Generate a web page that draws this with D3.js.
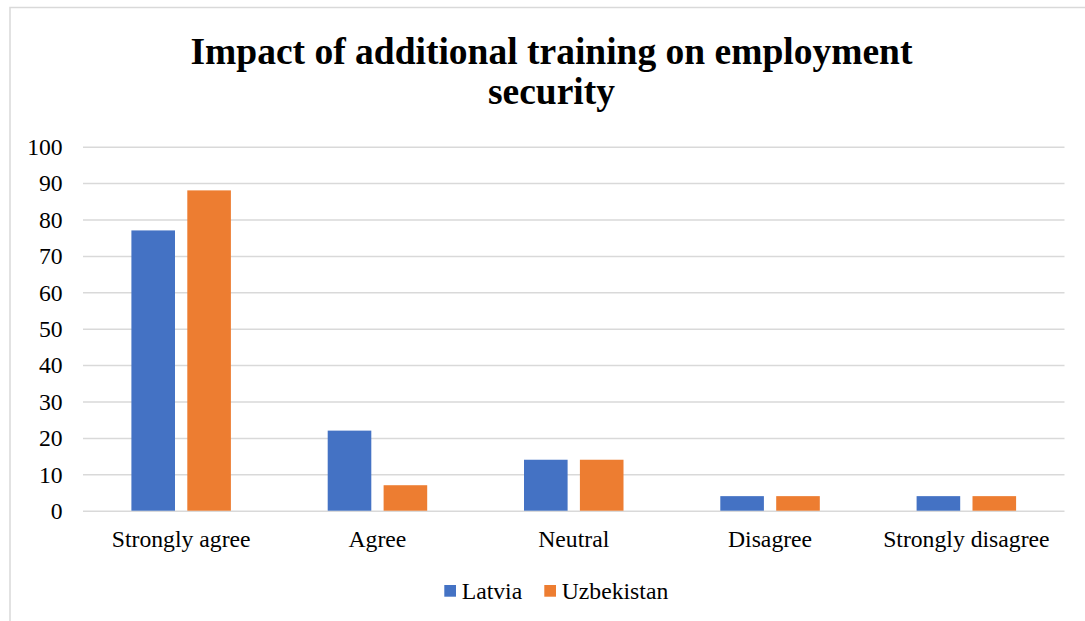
<!DOCTYPE html>
<html>
<head>
<meta charset="utf-8">
<script src="https://cdn.jsdelivr.net/npm/d3@7"></script>
<style>
  html, body { margin: 0; padding: 0; background: #fff; }
  svg { display: block; }
  svg text { font-family: "Liberation Serif", "Times New Roman", serif; fill: #000; }
</style>
</head>
<body>
<div id="chart"></div>
<script>
// Survey responses, percent of respondents
const categories = ["Strongly agree", "Agree", "Neutral", "Disagree", "Strongly disagree"];
const seriesNames = ["Latvia", "Uzbekistan"];
const latvia = [77, 22, 14, 4, 4];
const uzbekistan = [88, 7, 14, 4, 4];
const yTicks = [0, 10, 20, 30, 40, 50, 60, 70, 80, 90, 100];
const colors = ["#4472C4", "#ED7D31"];
const titleLines = ["Impact of additional training on employment", "security"];

const W = 1085, H = 621;
const plot = { left: 83, right: 1064.5, top: 146.7, bottom: 510.7 };
const bodyFont = 23.7;

const svg = d3.select("#chart").append("svg")
  .attr("width", W).attr("height", H);

// chart frame
svg.append("rect")
  .attr("x", 10).attr("y", 7.5)
  .attr("width", W + 20).attr("height", H + 20)
  .attr("fill", "#fff").attr("stroke", "#d9d9d9").attr("stroke-width", 1.5);

// title
const title = svg.append("text")
  .attr("text-anchor", "middle")
  .style("font-weight", "bold")
  .style("font-size", "37.5px");
titleLines.forEach((t, i) => {
  title.append("tspan").attr("x", 551.5).attr("y", 63.5 + i * 40).text(t);
});

const x0 = d3.scaleBand().domain(categories).range([plot.left, plot.right]).padding(0);
const y = d3.scaleLinear().domain([0, 100]).range([plot.bottom, plot.top]);

// gridlines and value labels
const yAxis = d3.axisLeft(y).tickValues(yTicks).tickSize(-(plot.right - plot.left)).tickPadding(20.3);
const gy = svg.append("g").attr("transform", `translate(${plot.left},0)`).call(yAxis);
gy.select(".domain").remove();
gy.selectAll(".tick line").attr("stroke", "#d9d9d9").attr("stroke-width", 1.5);
gy.selectAll(".tick text")
  .style("font-size", bodyFont + "px")
  .attr("dy", "0.33em");

// bars
const barW = 43.6, innerGap = 12.3;
const rows = categories.map((c, i) => ({ cat: c, vals: [latvia[i], uzbekistan[i]] }));
const groups = svg.append("g").selectAll("g").data(rows).join("g")
  .attr("transform", d => `translate(${x0(d.cat) + x0.bandwidth() / 2},0)`);
groups.selectAll("rect").data(d => d.vals.map((v, k) => ({ v, k }))).join("rect")
  .attr("x", d => d.k === 0 ? -(barW + innerGap / 2) : innerGap / 2)
  .attr("width", barW)
  .attr("y", d => y(d.v))
  .attr("height", d => y(0) - y(d.v))
  .attr("fill", d => colors[d.k]);

// category axis
const xAxis = d3.axisBottom(x0).tickSize(0).tickPadding(0);
const gx = svg.append("g").attr("transform", `translate(0,${plot.bottom})`).call(xAxis);
gx.select(".domain").remove();
gx.selectAll(".tick text")
  .style("font-size", bodyFont + "px")
  .attr("y", 36)
  .attr("dy", null);

// legend
const legendItems = [{ name: seriesNames[0], x: 444.3 }, { name: seriesNames[1], x: 544.3 }];
const lg = svg.append("g");
legendItems.forEach((d, i) => {
  lg.append("rect").attr("x", d.x).attr("y", 585).attr("width", 11.7).attr("height", 11.7).attr("fill", colors[i]);
  lg.append("text").attr("x", d.x + 17.4).attr("y", 599.3).style("font-size", bodyFont + "px").text(d.name);
});
</script>
</body>
</html>
